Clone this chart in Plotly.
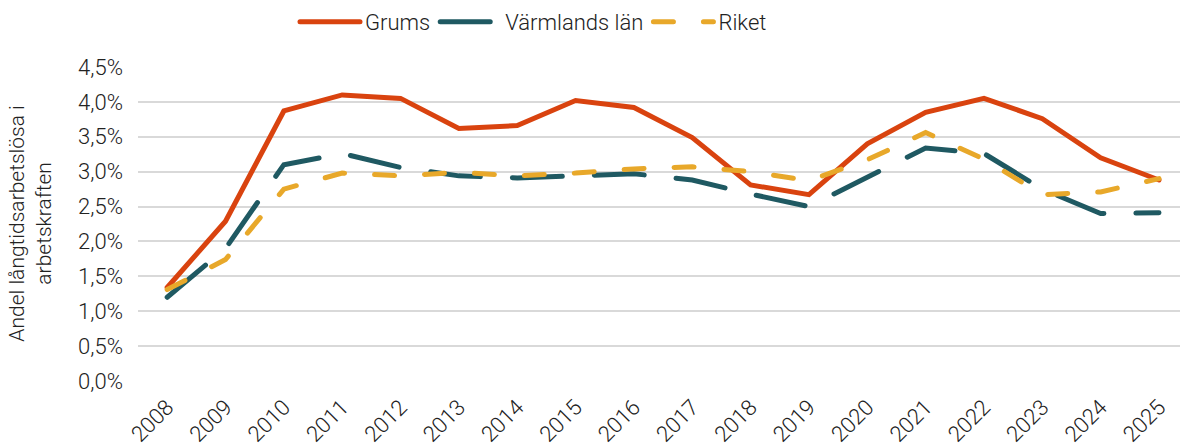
import plotly.graph_objects as go

years = list(range(2008, 2026))
grums = [1.34, 2.29, 3.87, 4.10, 4.05, 3.62, 3.66, 4.02, 3.92, 3.49, 2.81, 2.67, 3.40, 3.85, 4.05, 3.76, 3.20, 2.88]
varmland = [1.20, 1.90, 3.10, 3.26, 3.06, 2.94, 2.91, 2.94, 2.97, 2.88, 2.68, 2.50, 2.92, 3.34, 3.26, 2.75, 2.40, 2.41]
riket = [1.31, 1.74, 2.75, 2.98, 2.94, 2.99, 2.94, 2.98, 3.04, 3.07, 3.00, 2.87, 3.17, 3.56, 3.18, 2.67, 2.71, 2.90]
y_ticks = [0, 0.5, 1.0, 1.5, 2.0, 2.5, 3.0, 3.5, 4.0, 4.5]
y_ticktext = ["0,0%", "0,5%", "1,0%", "1,5%", "2,0%", "2,5%", "3,0%", "3,5%", "4,0%", "4,5%"]
y_title = "Andel långtidsarbetslösa i<br>arbetskraften"

FONT = "Roboto"
W = 300
fig = go.Figure()
fig.add_trace(go.Scatter(x=years, y=grums, name="Grums", mode="lines",
                         line=dict(color="#D9430F", width=5)))
fig.add_trace(go.Scatter(x=years, y=varmland, name="Värmlands län", mode="lines",
                         line=dict(color="#1F5962", width=5, dash="50px,32px")))
fig.add_trace(go.Scatter(x=years, y=riket, name="Riket", mode="lines",
                         line=dict(color="#E8A82A", width=5, dash="20px,30px")))

fig.update_layout(
    width=1180, height=448,
    margin=dict(l=138, r=0, t=67, b=67, autoexpand=False),
    paper_bgcolor="white", plot_bgcolor="white",
    font=dict(family=FONT, size=22, color="#222222", weight=W),
    legend=dict(orientation="h", xref="container", yref="container",
                x=0.25, xanchor="left", y=0.951, yanchor="middle",
                font=dict(size=22, family=FONT, weight=W), itemwidth=60,
                traceorder="normal"),
    xaxis=dict(range=[2007.5, 2025.36], tickmode="array", tickvals=years,
               ticktext=[str(y) for y in years], tickangle=-45,
               showgrid=False, zeroline=False, showline=False, ticks="",
               automargin=False, ticklabelstandoff=8,
               ticklabeloverflow="allow", tickfont=dict(size=22)),
    yaxis=dict(range=[0, 4.5], tickmode="array", tickvals=y_ticks, ticktext=y_ticktext,
               showgrid=True, gridcolor="#D9D9D9", gridwidth=2, zeroline=False,
               ticks="", automargin=False, ticklabelstandoff=14,
               tickfont=dict(size=22)),
    annotations=[dict(text=y_title, xref="paper", yref="paper",
                      x=-0.104, y=0.5, xanchor="center", yanchor="middle",
                      textangle=-90, showarrow=False,
                      font=dict(size=21, family=FONT, weight=W, color="#222222"))],
)
fig.write_html("out.html", config={"displayModeBar": False})

with open("out.html", "r", encoding="utf-8") as f:
    html = f.read()
html = html.replace("<body>", '<body style="margin:0;padding:0;overflow:hidden">', 1)
html = html.replace("</head>", "<style>.scatterlayer path.js-line, .legend path.js-line{stroke-linecap:round;}</style></head>", 1)
with open("out.html", "w", encoding="utf-8") as f:
    f.write(html)
